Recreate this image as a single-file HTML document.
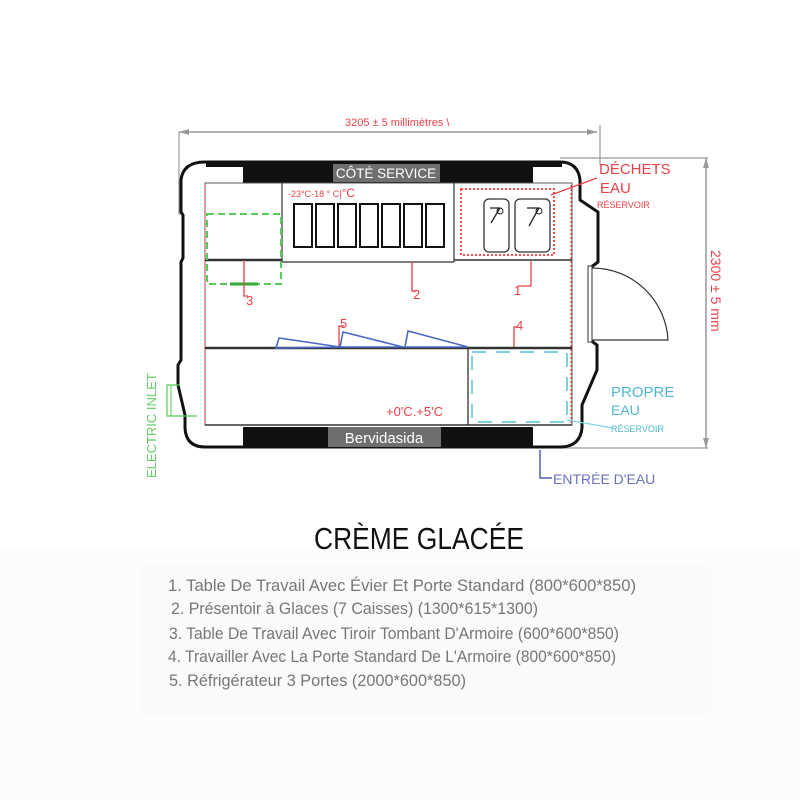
<!DOCTYPE html>
<html><head><meta charset="utf-8"><style>
html,body{margin:0;padding:0;background:#fff}
svg{display:block}
text{font-family:"Liberation Sans",sans-serif}
</style></head><body>
<svg width="800" height="800" viewBox="0 0 800 800" xmlns="http://www.w3.org/2000/svg">
<rect width="800" height="800" fill="#fff"/>
<rect x="0" y="550" width="800" height="250" fill="#fcfcfc"/>
<rect x="140" y="565" width="570" height="150" fill="#fafafa"/>

<line x1="179" y1="132" x2="597" y2="132" stroke="#999" stroke-width="1.5"/>
<path d="M179,132 l10,-3 v6z M597,132 l-10,-3 v6z" fill="#999"/>
<line x1="179" y1="132" x2="179" y2="215" stroke="#999" stroke-width="1.2"/>
<line x1="600" y1="125" x2="600" y2="165" stroke="#999" stroke-width="1.2"/>
<text x="345" y="126" font-size="11" fill="#e8414a">3205 ± 5 millimètres \</text>
<line x1="560" y1="158" x2="708" y2="158" stroke="#999" stroke-width="1.2"/>
<line x1="560" y1="448" x2="708" y2="448" stroke="#999" stroke-width="1.2"/>
<line x1="706" y1="158" x2="706" y2="448" stroke="#999" stroke-width="1.5"/>
<path d="M706,158 l-3,10 h6z M706,448 l-3,-10 h6z" fill="#999"/>
<text transform="translate(711,250) rotate(90)" font-size="14" fill="#e8414a">2300 ± 5 mm</text>

<path d="M205,162 H560 Q578,162 580,180 V200 L598,212 V262 L590,268 V340 L597,345 V370 L582,405 V428 Q580,447 560,447 H205 Q186,447 185,428 V415 L178,385 V365 L181,360 V262 L183,258 V215 L181,212 V180 Q183,162 205,162 Z" fill="none" stroke="#111" stroke-width="3"/>
<rect x="243" y="162" width="290" height="21" fill="#111"/>
<rect x="243" y="427" width="290" height="20" fill="#111"/>
<rect x="206" y="162" width="37" height="5" fill="#111"/>
<rect x="532" y="162" width="30" height="5" fill="#111"/>
<rect x="333" y="164" width="107" height="18" fill="#6f6f6f"/>
<text x="386" y="178" font-size="13.5" fill="#fff" text-anchor="middle">CÔTÉ SERVICE</text>
<rect x="328" y="427" width="113" height="20" fill="#6f6f6f"/>
<text x="384" y="443" font-size="15" fill="#fff" text-anchor="middle">Bervidasida</text>

<rect x="205" y="183" width="367" height="242" fill="none" stroke="#555" stroke-width="1"/>
<line x1="205" y1="185" x2="205" y2="425" stroke="#f33" stroke-width="1" stroke-dasharray="2,2"/>
<line x1="571" y1="185" x2="571" y2="425" stroke="#f33" stroke-width="1" stroke-dasharray="2,2"/>
<line x1="205" y1="260" x2="282" y2="260" stroke="#333" stroke-width="2.5"/>
<line x1="282" y1="183" x2="282" y2="262" stroke="#333" stroke-width="1.2"/>
<line x1="282" y1="262" x2="454" y2="262" stroke="#333" stroke-width="1.2"/>
<line x1="454" y1="183" x2="454" y2="262" stroke="#333" stroke-width="1.2"/>
<line x1="454" y1="260" x2="572" y2="260" stroke="#333" stroke-width="1.5"/>
<g fill="#fff" stroke="#111" stroke-width="2">
<rect x="294" y="204" width="18" height="43"/><rect x="316" y="204" width="18" height="43"/>
<rect x="338" y="204" width="18" height="43"/><rect x="360" y="204" width="18" height="43"/>
<rect x="382" y="204" width="18" height="43"/><rect x="404" y="204" width="18" height="43"/>
<rect x="426" y="204" width="18" height="43"/>
</g>
<text x="288" y="197" font-size="9" fill="#e8414a">-23°C-18 ° C|<tspan font-size="12">°C</tspan></text>
<rect x="207" y="214" width="74" height="70" fill="none" stroke="#5c5" stroke-width="2" stroke-dasharray="7,4"/>
<line x1="230" y1="284" x2="258" y2="284" stroke="#3a3" stroke-width="3"/>
<rect x="461" y="189" width="93" height="66" fill="none" stroke="#f33" stroke-width="1.8" stroke-dasharray="2,2"/>
<rect x="484" y="199" width="25" height="53" rx="5" fill="none" stroke="#333" stroke-width="1.3"/>
<rect x="515" y="199" width="35" height="53" rx="5" fill="none" stroke="#333" stroke-width="1.3"/>
<path d="M490,208 h10 M500,208 l-9,15 M527,208 h12 M539,208 l-10,18" stroke="#222" stroke-width="1.3" fill="none"/>
<circle cx="500" cy="211" r="3" fill="none" stroke="#222"/><circle cx="539" cy="211" r="3" fill="none" stroke="#222"/>
<g stroke="#e8414a" stroke-width="1.3" fill="none">
<path d="M244,260 V296 H248"/><path d="M412,262 V291 H416"/><path d="M531,261 V286 H518"/>
<path d="M339,348 V326 H344"/><path d="M514,348 V327 H518"/>
<path d="M551,195 L597,178"/>
</g>
<g font-size="13" fill="#e8414a">
<text x="246" y="305">3</text><text x="413" y="299">2</text><text x="514" y="295">1</text>
<text x="340" y="328">5</text><text x="516" y="330">4</text>
</g>
<line x1="205" y1="348" x2="572" y2="348" stroke="#333" stroke-width="2.5"/>
<line x1="468" y1="348" x2="468" y2="425" stroke="#333" stroke-width="1.3"/>
<line x1="205" y1="425" x2="572" y2="425" stroke="#333" stroke-width="1.5"/>
<rect x="472" y="352" width="95" height="70" fill="none" stroke="#7cd3e2" stroke-width="2" stroke-dasharray="14,10"/>
<g fill="none" stroke="#4a6bc4" stroke-width="1.6">
<path d="M276,348 L279,338 L340,347 Z"/><path d="M340,347 L343,332 L403,347 Z"/><path d="M405,347 L408,331 L468,347 Z"/>
</g>
<text x="386" y="416" font-size="13" fill="#e8414a">+0'C.+5'C</text>
<rect x="588" y="266" width="4" height="76" fill="#fff" stroke="#333" stroke-width="1"/>
<path d="M592,268 A76,76 0 0 1 668,340 H592" fill="none" stroke="#333" stroke-width="1.2"/>
<text x="599" y="174" font-size="15" fill="#e8414a">DÉCHETS</text>
<text x="600" y="193" font-size="15" fill="#e8414a">EAU</text>
<text x="597" y="208" font-size="9" fill="#e8414a">RÉSERVOIR</text>
<text x="611" y="397" font-size="15" fill="#4fb8d0">PROPRE</text>
<text x="611" y="415" font-size="14" fill="#4fb8d0">EAU</text>
<text x="611" y="432" font-size="9" fill="#4fb8d0">RÉSERVOIR</text>
<line x1="567" y1="420" x2="613" y2="428" stroke="#7cd3e2" stroke-width="1.2"/>
<path d="M540,450 V478 H552" fill="none" stroke="#5060b0" stroke-width="1.5"/>
<text x="553" y="484" font-size="14" fill="#6a73b8">ENTRÉE D'EAU</text>
<path d="M180,385 H167 V416 H197" fill="none" stroke="#5c5" stroke-width="1.2"/>
<line x1="171" y1="385" x2="171" y2="416" stroke="#5c5" stroke-width="1"/>
<text transform="translate(156,478) rotate(-90)" font-size="13" fill="#6c6">ELECTRIC INLET</text>

<text x="314" y="549" font-size="31" fill="#111" textLength="210" lengthAdjust="spacingAndGlyphs">CRÈME GLACÉE</text>
<g font-size="16.5" fill="#777">
<text x="168" y="591" textLength="468" lengthAdjust="spacingAndGlyphs">1. Table De Travail Avec Évier Et Porte Standard (800*600*850)</text>
<text x="171" y="614" textLength="367" lengthAdjust="spacingAndGlyphs">2. Présentoir à Glaces (7 Caisses) (1300*615*1300)</text>
<text x="169" y="639" textLength="450" lengthAdjust="spacingAndGlyphs">3. Table De Travail Avec Tiroir Tombant D'Armoire (600*600*850)</text>
<text x="168" y="662" textLength="448" lengthAdjust="spacingAndGlyphs">4. Travailler Avec La Porte Standard De L'Armoire (800*600*850)</text>
<text x="169" y="686" textLength="297" lengthAdjust="spacingAndGlyphs">5. Réfrigérateur 3 Portes (2000*600*850)</text>
</g>
</svg>
</body></html>
